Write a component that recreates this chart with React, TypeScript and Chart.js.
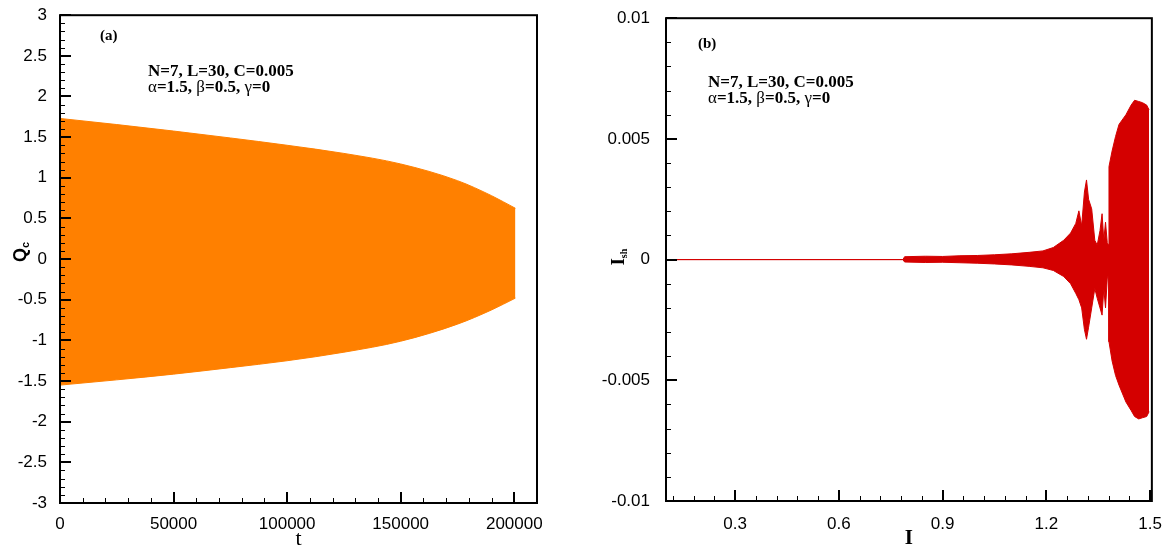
import React, { useEffect, useRef } from "react";
import { Chart, registerables } from "chart.js";

Chart.register(...registerables);

// ---------- Panel (a): Q_c vs t (envelope of dense oscillation) ----------
const tValues = [0, 25000, 50000, 75000, 100000, 125000, 150000, 175000, 190000, 200500];
const qUpper = [1.73, 1.655, 1.575, 1.49, 1.4, 1.3, 1.17, 0.965, 0.78, 0.625];
const qLower = [-1.55, -1.485, -1.415, -1.335, -1.25, -1.145, -1.01, -0.8, -0.625, -0.48];
const tTicks = [0, 50000, 100000, 150000, 200000];
const tTickLabels = ["0", "50000", "100000", "150000", "200000"];
const qTicks = [-3, -2.5, -2, -1.5, -1, -0.5, 0, 0.5, 1, 1.5, 2, 2.5, 3];
const qTickLabels = ["-3", "-2.5", "-2", "-1.5", "-1", "-0.5", "0", "0.5", "1", "1.5", "2", "2.5", "3"];

// ---------- Panel (b): I_sh vs I (envelope) ----------
const iValues = [
  0.1, 0.785, 0.79, 0.85, 0.9, 0.95, 1.0, 1.05, 1.1, 1.15, 1.19, 1.22, 1.25, 1.27, 1.285,
  1.294, 1.302, 1.31, 1.316, 1.322, 1.331, 1.34, 1.347, 1.355, 1.361, 1.366, 1.371, 1.376,
  1.38, 1.381, 1.39, 1.4, 1.41, 1.43, 1.445, 1.455, 1.467, 1.478, 1.49, 1.497,
];
const ishUpper = [
  0, 0, 0.00012, 0.00014, 0.00013, 0.00016, 0.00017, 0.0002, 0.00024, 0.0003, 0.00036, 0.0005,
  0.0008, 0.0011, 0.0015, 0.00202, 0.0014, 0.0028, 0.0033, 0.0025, 0.0021, 0.0008, 0.0006,
  0.0012, 0.0019, 0.0008, 0.00155, 0.0007, 0.0006, 0.00385, 0.0045, 0.0051, 0.0056, 0.006,
  0.0064, 0.0066, 0.00655, 0.0065, 0.0064, 0.0062,
];
const ishLower = [
  0, 0, -0.0001, -0.00012, -0.00011, -0.00013, -0.00015, -0.00018, -0.00022, -0.00028,
  -0.00034, -0.00045, -0.0007, -0.001, -0.0014, -0.00166, -0.002, -0.0029, -0.0033, -0.0028,
  -0.002, -0.0012, -0.0016, -0.002, -0.0023, -0.0012, -0.002, -0.0008, -0.0006, -0.0034,
  -0.0042, -0.0048, -0.0052, -0.0059, -0.00625, -0.0065, -0.0066, -0.00655, -0.0065, -0.0063,
];
const iTicks = [0.3, 0.6, 0.9, 1.2, 1.5];
const iTickLabels = ["0.3", "0.6", "0.9", "1.2", "1.5"];
const ishTicks = [-0.01, -0.005, 0, 0.005, 0.01];
const ishTickLabels = ["-0.01", "-0.005", "0", "0.005", "0.01"];

type Run = [string, string];

function drawRuns(ctx: CanvasRenderingContext2D, x: number, y: number, runs: Run[]) {
  let cx = x;
  for (const [text, font] of runs) {
    ctx.font = font;
    ctx.fillText(text, cx, y);
    cx += ctx.measureText(text).width;
  }
}

const decorPlugin = {
  id: "decor",
  afterDraw(chart: any, _args: any, opts: any) {
    const { ctx, chartArea: a, scales } = chart;
    const xs = scales.x;
    const ys = scales.y;
    ctx.save();
    ctx.strokeStyle = "#000";
    ctx.fillStyle = "#000";
    // minor ticks
    ctx.lineWidth = 1;
    const eps = 1e-9;
    for (let v = opts.xMinorStart; v <= xs.max + eps; v += opts.xMinorStep) {
      const px = Math.round(xs.getPixelForValue(v)) + 0.5;
      if (px < a.left + 2 || px > a.right - 1) continue;
      ctx.beginPath();
      ctx.moveTo(px, a.bottom);
      ctx.lineTo(px, a.bottom - opts.minorLen);
      ctx.stroke();
    }
    for (let v = opts.yMinorStart; v <= ys.max + eps; v += opts.yMinorStep) {
      const py = Math.round(ys.getPixelForValue(v)) + 0.5;
      if (py < a.top + 1 || py > a.bottom - 2) continue;
      ctx.beginPath();
      ctx.moveTo(a.left, py);
      ctx.lineTo(a.left + opts.minorLen, py);
      ctx.stroke();
    }
    // major ticks
    ctx.lineWidth = 2;
    for (const v of opts.xMajor) {
      const px = Math.round(xs.getPixelForValue(v));
      ctx.beginPath();
      ctx.moveTo(px, a.bottom);
      ctx.lineTo(px, a.bottom - opts.majorLen);
      ctx.stroke();
    }
    for (const v of opts.yMajor) {
      const py = Math.round(ys.getPixelForValue(v));
      ctx.beginPath();
      ctx.moveTo(a.left, py);
      ctx.lineTo(a.left + opts.majorLen, py);
      ctx.stroke();
    }
    // frame
    ctx.lineWidth = 2;
    ctx.strokeRect(a.left, a.top, a.right - a.left, a.bottom - a.top);

    // x title
    ctx.textAlign = "center";
    ctx.textBaseline = "alphabetic";
    ctx.font = opts.xTitleFont;
    ctx.fillText(opts.xTitle, (a.left + a.right) / 2, opts.xTitleY);

    // y title with subscript (rotated)
    ctx.save();
    ctx.translate(opts.yTitleX, opts.yTitleY);
    ctx.rotate(-Math.PI / 2);
    ctx.textAlign = "left";
    ctx.font = opts.yTitleFont;
    const w1 = ctx.measureText(opts.yTitle).width;
    ctx.font = opts.yTitleSubFont;
    const w2 = ctx.measureText(opts.yTitleSub).width;
    const start = -(w1 + w2) / 2;
    ctx.font = opts.yTitleFont;
    ctx.fillText(opts.yTitle, start, 6);
    ctx.font = opts.yTitleSubFont;
    ctx.fillText(opts.yTitleSub, start + w1, 9);
    ctx.restore();

    // annotations
    ctx.textAlign = "left";
    const bold = "bold 17px 'Liberation Serif', 'Times New Roman', serif";
    const norm = "17px 'Liberation Serif', 'Times New Roman', serif";
    ctx.font = "bold 15px 'Liberation Serif', 'Times New Roman', serif";
    ctx.fillText(opts.panelLabel, opts.labelX, opts.labelY);
    drawRuns(ctx, opts.textX, opts.textY1, [["N=7, L=30, C=0.005", bold]]);
    drawRuns(ctx, opts.textX, opts.textY2, [
      ["α", norm],
      ["=1.5, ", bold],
      ["β", norm],
      ["=0.5, ", bold],
      ["γ", norm],
      ["=0", bold],
    ]);
    ctx.restore();
  },
};

const tickFont = { family: "'Liberation Sans', Arial, sans-serif", size: 17 };

function makeLeft(canvas: HTMLCanvasElement) {
  return new Chart(canvas, {
    type: "line",
    data: {
      datasets: [
        {
          data: tValues.map((t, i) => ({ x: t, y: qUpper[i] })),
          borderColor: "#FF8000",
          backgroundColor: "#FF8000",
          borderWidth: 1,
          pointRadius: 0,
          fill: "+1",
          cubicInterpolationMode: "monotone",
        },
        {
          data: tValues.map((t, i) => ({ x: t, y: qLower[i] })),
          borderColor: "#FF8000",
          backgroundColor: "#FF8000",
          borderWidth: 1,
          pointRadius: 0,
          fill: false,
          cubicInterpolationMode: "monotone",
        },
      ],
    },
    options: {
      animation: false,
      responsive: false,
      events: [],
      layout: { padding: { top: 13, right: 38, left: 0, bottom: 0 } },
      plugins: {
        legend: { display: false },
        tooltip: { enabled: false },
        decor: {
          xMinorStart: 0,
          xMinorStep: 10000,
          yMinorStart: -3,
          yMinorStep: 0.1,
          xMajor: tTicks,
          yMajor: qTicks,
          minorLen: 5,
          majorLen: 11,
          xTitle: "t",
          xTitleFont: "22px 'Liberation Serif', 'Times New Roman', serif",
          xTitleY: 545,
          yTitle: "Q",
          yTitleSub: "c",
          yTitleFont: "bold 18px 'Liberation Sans', Arial, sans-serif",
          yTitleSubFont: "bold 11px 'Liberation Sans', Arial, sans-serif",
          yTitleX: 20,
          yTitleY: 252,
          panelLabel: "(a)",
          labelX: 100,
          labelY: 40,
          textX: 148,
          textY1: 76,
          textY2: 92,
        },
      } as any,
      scales: {
        x: {
          type: "linear",
          min: 0,
          max: 210000,
          afterBuildTicks: (s: any) => {
            s.ticks = tTicks.map((v) => ({ value: v }));
          },
          afterFit: (s: any) => {
            s.height = 48;
          },
          grid: { display: false },
          border: { display: false },
          ticks: {
            color: "#000",
            font: tickFont,
            padding: 3,
            maxRotation: 0,
            autoSkip: false,
            callback: (_v: any, i: number) => tTickLabels[i],
          },
        },
        y: {
          type: "linear",
          min: -3,
          max: 3,
          afterBuildTicks: (s: any) => {
            s.ticks = qTicks.map((v) => ({ value: v }));
          },
          afterFit: (s: any) => {
            s.width = 60;
          },
          grid: { display: false },
          border: { display: false },
          ticks: {
            color: "#000",
            font: tickFont,
            padding: 5,
            autoSkip: false,
            callback: (_v: any, i: number) => qTickLabels[i],
          },
        },
      },
    },
    plugins: [decorPlugin],
  } as any);
}

function makeRight(canvas: HTMLCanvasElement) {
  return new Chart(canvas, {
    type: "line",
    data: {
      datasets: [
        {
          data: iValues.map((v, i) => ({ x: v, y: ishUpper[i] })),
          borderColor: "#D40000",
          backgroundColor: "#D40000",
          borderWidth: 1,
          pointRadius: 0,
          fill: "+1",
        },
        {
          data: iValues.map((v, i) => ({ x: v, y: ishLower[i] })),
          borderColor: "#D40000",
          backgroundColor: "#D40000",
          borderWidth: 1,
          pointRadius: 0,
          fill: false,
        },
      ],
    },
    options: {
      animation: false,
      responsive: false,
      events: [],
      layout: { padding: { top: 12, right: 14, left: 0, bottom: 0 } },
      plugins: {
        legend: { display: false },
        tooltip: { enabled: false },
        decor: {
          xMinorStart: 0.12,
          xMinorStep: 0.06,
          yMinorStart: -0.01,
          yMinorStep: 0.001,
          xMajor: iTicks,
          yMajor: ishTicks,
          minorLen: 5,
          majorLen: 11,
          xTitle: "I",
          xTitleFont: "bold 21px 'Liberation Serif', 'Times New Roman', serif",
          xTitleY: 544,
          yTitle: "I",
          yTitleSub: "sh",
          yTitleFont: "bold 18px 'Liberation Serif', 'Times New Roman', serif",
          yTitleSubFont: "bold 10px 'Liberation Serif', 'Times New Roman', serif",
          yTitleX: 43,
          yTitleY: 257,
          panelLabel: "(b)",
          labelX: 123,
          labelY: 48,
          textX: 133,
          textY1: 87,
          textY2: 103,
        },
      } as any,
      scales: {
        x: {
          type: "linear",
          min: 0.1,
          max: 1.505,
          afterBuildTicks: (s: any) => {
            s.ticks = iTicks.map((v) => ({ value: v }));
          },
          afterFit: (s: any) => {
            s.height = 50;
          },
          grid: { display: false },
          border: { display: false },
          ticks: {
            color: "#000",
            font: tickFont,
            padding: 5,
            maxRotation: 0,
            autoSkip: false,
            callback: (_v: any, i: number) => iTickLabels[i],
          },
        },
        y: {
          type: "linear",
          min: -0.01,
          max: 0.01,
          afterBuildTicks: (s: any) => {
            s.ticks = ishTicks.map((v) => ({ value: v }));
          },
          afterFit: (s: any) => {
            s.width = 91;
          },
          grid: { display: false },
          border: { display: false },
          ticks: {
            color: "#000",
            font: tickFont,
            padding: 8,
            autoSkip: false,
            callback: (_v: any, i: number) => ishTickLabels[i],
          },
        },
      },
    },
    plugins: [decorPlugin],
  } as any);
}

export default function App() {
  const leftRef = useRef<HTMLCanvasElement>(null);
  const rightRef = useRef<HTMLCanvasElement>(null);

  useEffect(() => {
    const c1 = makeLeft(leftRef.current!);
    const c2 = makeRight(rightRef.current!);
    return () => {
      c1.destroy();
      c2.destroy();
    };
  }, []);

  return (
    <div
      style={{
        position: "absolute",
        left: 0,
        top: 0,
        width: 1167,
        height: 551,
        background: "#fff",
        overflow: "hidden",
      }}
    >
      <canvas
        ref={leftRef}
        width={575}
        height={551}
        style={{ position: "absolute", left: 0, top: 0, width: 575, height: 551 }}
      />
      <canvas
        ref={rightRef}
        width={592}
        height={551}
        style={{ position: "absolute", left: 575, top: 0, width: 592, height: 551 }}
      />
    </div>
  );
}
